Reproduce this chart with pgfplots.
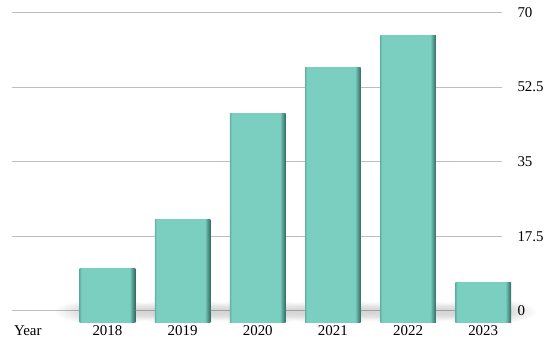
\documentclass[border=0pt]{standalone}
\usepackage{pgfplots}
\pgfplotsset{compat=1.18}
\usepackage{fontspec}
\setmainfont{Liberation Serif}

\definecolor{gridgray}{RGB}{190,190,190}
\definecolor{tealL}{RGB}{98,178,165}
\definecolor{tealM}{RGB}{122,207,192}
\definecolor{tealD2}{RGB}{82,155,143}
\definecolor{tealD}{RGB}{52,108,99}
\definecolor{shadowgray}{RGB}{185,185,185}

% face of a bar: slightly dark left edge, flat face, dark right side
\pgfdeclarehorizontalshading{tealface}{100bp}{
    color(0bp)=(tealL); color(25bp)=(tealL); color(26.5bp)=(tealM);
    color(70bp)=(tealM); color(72.5bp)=(tealD2); color(75bp)=(tealD);
    color(100bp)=(tealD)}

\pgfplotsset{
    tealbar/.style={draw=none, bar shift=0, shading=tealface},
    shadow/.style={sharp plot, no markers, draw=none,
        inner color=shadowgray, outer color=white, blend mode=multiply},
}

\begin{document}
\begin{tikzpicture}
\useasboundingbox (0bp,0bp) rectangle (550bp,343bp);
\begin{axis}[
    at={(12bp,21bp)}, anchor=south west,
    scale only axis,
    width=490bp, height=309.5bp,
    xmin=-1.27, xmax=5.25,
    ymin=-2.6, ymax=70,
    axis line style={draw=none},
    ybar, bar width=0.74,
    ytick={0,17.5,35,52.5,70},
    ymajorgrids,
    grid style={gridgray, line width=1bp},
    xtick={-1.06,0,1,2,3,4,5},
    xticklabels={Year,2018,2019,2020,2021,2022,2023},
    yticklabels={0,17.5,35,52.5,70},
    font=\fontsize{15}{18}\selectfont,
    xticklabel style={anchor=north, yshift=0bp},
    yticklabel pos=right,
    yticklabel style={anchor=west, xshift=12bp},
    major tick length=0pt,
    /pgf/number format/assume math mode=true,
    clip=false,
]
% shadows on the floor behind the bars
\addplot[shadow] coordinates {(-0.72,-3.2) (0.72,-3.2) (0.72,3.0) (-0.72,3.0)} -- cycle;
\addplot[shadow] coordinates {(0.28,-3.2) (1.72,-3.2) (1.72,3.0) (0.28,3.0)} -- cycle;
\addplot[shadow] coordinates {(1.28,-3.2) (2.72,-3.2) (2.72,3.0) (1.28,3.0)} -- cycle;
\addplot[shadow] coordinates {(2.28,-3.2) (3.72,-3.2) (3.72,3.0) (2.28,3.0)} -- cycle;
\addplot[shadow] coordinates {(3.28,-3.2) (4.72,-3.2) (4.72,3.0) (3.28,3.0)} -- cycle;
\addplot[shadow] coordinates {(4.28,-3.2) (5.72,-3.2) (5.72,3.0) (4.28,3.0)} -- cycle;
% one bar per year, each with its own shading
\addplot[tealbar] coordinates {(0,10.0)};
\addplot[tealbar] coordinates {(1,21.4)};
\addplot[tealbar] coordinates {(2,46.2)};
\addplot[tealbar] coordinates {(3,57.0)};
\addplot[tealbar] coordinates {(4,64.7)};
\addplot[tealbar] coordinates {(5,6.6)};
% feet of the bars, below the 0 line
\addplot[tealbar] coordinates {(0,-2.6)};
\addplot[tealbar] coordinates {(1,-2.6)};
\addplot[tealbar] coordinates {(2,-2.6)};
\addplot[tealbar] coordinates {(3,-2.6)};
\addplot[tealbar] coordinates {(4,-2.6)};
\addplot[tealbar] coordinates {(5,-2.6)};
\end{axis}
\end{tikzpicture}
\end{document}
